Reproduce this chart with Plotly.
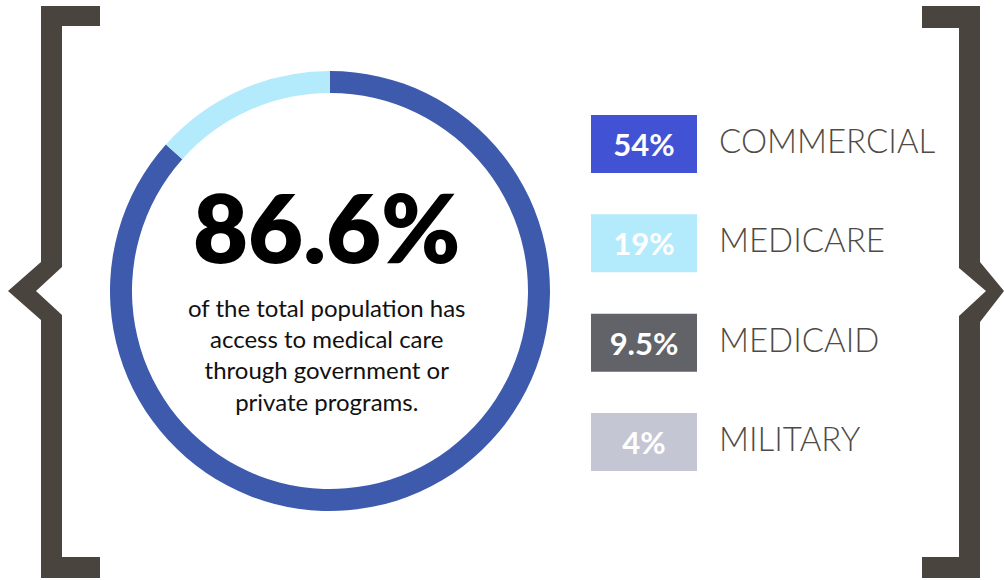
import plotly.graph_objects as go

# ---- data ----
coverage_pct = 86.6
ring_labels = ["Covered", "Uncovered"]
ring_values = [coverage_pct, round(100 - coverage_pct, 1)]
ring_colors = ["#3d5aad", "#b3ebfc"]

categories = ["COMMERCIAL", "MEDICARE", "MEDICAID", "MILITARY"]
shares = [54, 19, 9.5, 4]
box_colors = ["#4152d4", "#b3ebfc", "#626368", "#c5c6d4"]

caption = "of the total population has<br>access to medical care<br>through government or<br>private programs."

W, H = 1004, 580
def px(x, y):
    return x / W, 1 - y / H

fig = go.Figure()

# donut ring
fig.add_trace(go.Pie(
    labels=ring_labels, values=ring_values, hole=0.9, sort=False,
    direction="counterclockwise", rotation=0,
    marker=dict(colors=ring_colors, line=dict(width=0)),
    textinfo="none", hoverinfo="skip", showlegend=False,
    domain=dict(x=[110 / W, 550 / W], y=[1 - 511 / H, 1 - 71 / H]),
))

# legend boxes as equal-length bars
fig.add_trace(go.Bar(
    x=[1] * len(categories), y=categories, orientation="h",
    marker=dict(color=box_colors, line=dict(width=0)),
    width=0.583,
    text=[f"{v:g}%" for v in shares], textposition="inside",
    insidetextanchor="middle",
    textfont=dict(family="Lato", size=31, color="white", weight=700),
    hoverinfo="skip", showlegend=False,
    xaxis="x", yaxis="y",
))

annotations = []
for c in categories:
    annotations.append(dict(
        x=717 / W, xref="paper", y=c, yref="y", yshift=4,
        text=c, showarrow=False, xanchor="left", yanchor="middle",
        font=dict(family="Lato", size=33, color="#4f4a45", weight=300),
    ))

cx, cy = px(326, 226)
annotations.append(dict(
    x=cx, y=cy, xref="paper", yref="paper", text=f"{coverage_pct:.1f}%",
    showarrow=False, xanchor="center", yanchor="middle",
    font=dict(family="Lato", size=95, color="#000000", weight=800),
))
cx2, cy2 = px(327, 355)
annotations.append(dict(
    x=cx2, y=cy2, xref="paper", yref="paper", text=caption,
    showarrow=False, xanchor="center", yanchor="middle", align="center",
    font=dict(family="Lato", size=24, color="#111111", weight=400),
))

def brace_path(points):
    s = ""
    for i, (x, y) in enumerate(points):
        X, Y = px(x, y)
        s += ("M" if i == 0 else "L") + f"{X:.5f},{Y:.5f} "
    return s + "Z"

left_brace = [(100, 6), (41, 6), (41, 262), (8, 291), (41, 320), (41, 578),
              (100, 578), (100, 557), (62, 557), (62, 315), (36, 291), (62, 267),
              (62, 26), (100, 26)]
right_brace = [(922, 6), (980, 6), (980, 262), (1004, 291), (980, 322), (980, 578),
               (922, 578), (922, 557), (959, 557), (959, 316), (986, 291), (959, 268),
               (959, 28), (922, 28)]
brace_color = "#4a443f"
shapes = [dict(type="path", path=brace_path(p), xref="paper", yref="paper",
               fillcolor=brace_color, line=dict(width=0), layer="above")
          for p in (left_brace, right_brace)]

ytop, ybot = 94.25, 491.75
fig.update_layout(
    width=W, height=H, margin=dict(l=0, r=0, t=0, b=0),
    paper_bgcolor="white", plot_bgcolor="rgba(0,0,0,0)",
    xaxis=dict(domain=[591 / W, 697 / W], range=[0, 1], visible=False, fixedrange=True),
    yaxis=dict(domain=[1 - ybot / H, 1 - ytop / H], visible=False,
               categoryorder="array", categoryarray=categories,
               autorange="reversed", fixedrange=True),
    uniformtext=dict(mode=False),
    annotations=annotations, shapes=shapes,
)

fig.write_html("out.html")
